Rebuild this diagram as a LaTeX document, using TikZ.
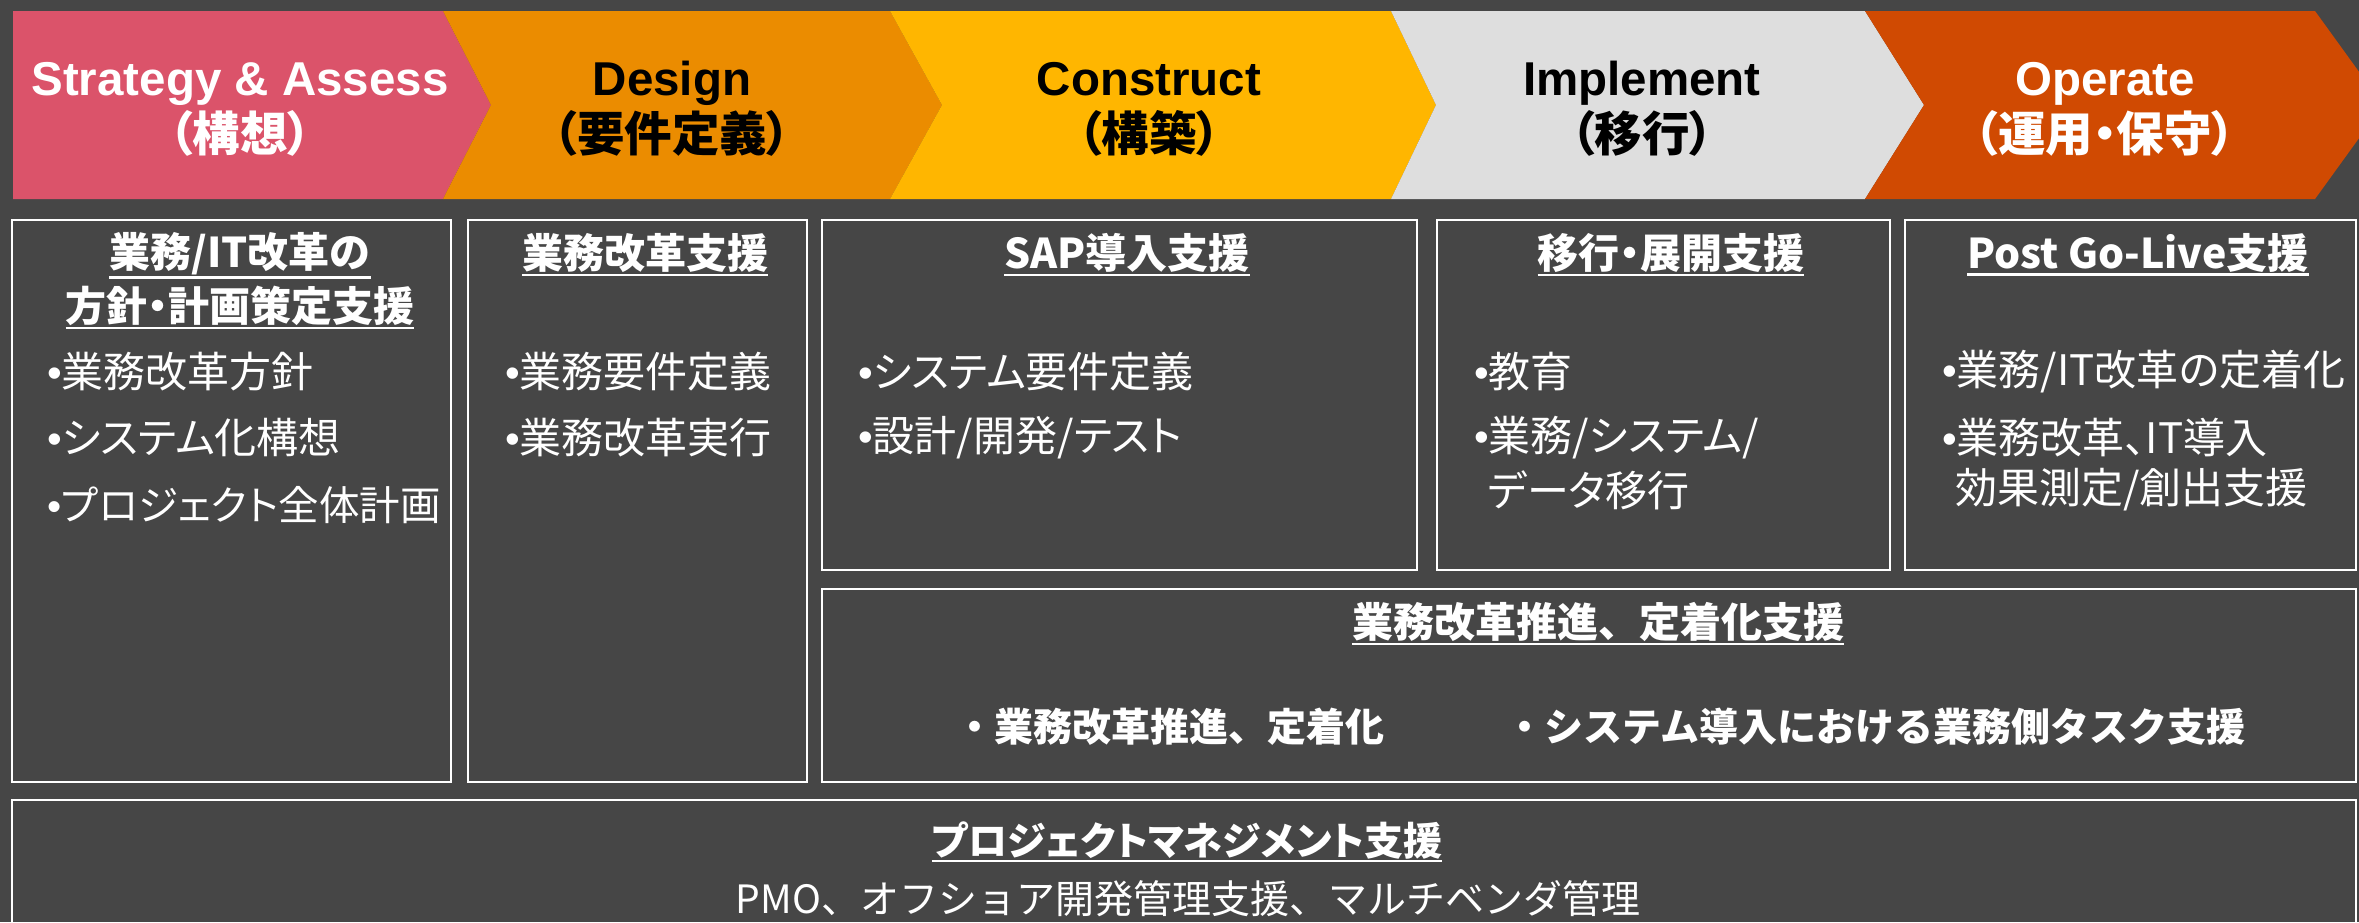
\documentclass[tikz,border=0pt]{standalone}
\usepackage{fontspec}
\setmainfont{Liberation Sans}
\newfontfamily\jp{Noto Sans CJK JP}[RawFeature=+palt]
\newfontfamily\jpfull{Noto Sans CJK JP}
\definecolor{bg}{RGB}{70,70,70}
\definecolor{rose}{RGB}{219,83,106}
\definecolor{tangerine}{RGB}{235,140,0}
\definecolor{amber}{RGB}{255,182,0}
\definecolor{lgry}{RGB}{222,222,222}
\definecolor{vermil}{RGB}{208,74,2}
\newcommand\bul{{\rmfamily\textbullet}}
\tikzset{
  box/.style={draw=white, line width=2pt},
  phase/.style={font=\fontsize{47.5}{57}\selectfont\bfseries, inner sep=0pt, anchor=base},
  phasejp/.style={phase, font=\jp\fontsize{47.5}{57}\selectfont\bfseries},
  head/.style={font=\jp\fontsize{41}{49}\selectfont\bfseries, text=white, inner sep=0pt},
  uline/.style={white, line width=2.5pt},
  item/.style={font=\jp\fontsize{42}{50}\selectfont, text=white, inner sep=0pt, anchor=west},
  bitem/.style={item, font=\jpfull\fontsize{39}{47}\selectfont\bfseries},
  body/.style={font=\jpfull\fontsize{39}{47}\selectfont, text=white, inner sep=0pt},
}

\begin{document}
\begin{tikzpicture}[x=1pt,y=-1pt]
  \useasboundingbox (0,0) rectangle (2359,922);
  \clip (0,0) rectangle (2359,922);
  \fill[bg] (0,0) rectangle (2359,922);
  % phase arrows
  \fill[rose] (13,11) -- (443,11) -- (491,105) -- (443,199) -- (13,199) -- cycle;
  \fill[tangerine] (443,11) -- (890,11) -- (942,105) -- (890,199) -- (443,199) -- (491,105) -- cycle;
  \fill[amber] (890,11) -- (1391,11) -- (1436,105) -- (1391,199) -- (890,199) -- (942,105) -- cycle;
  \fill[lgry] (1391,11) -- (1865,11) -- (1924,105) -- (1865,199) -- (1391,199) -- (1436,105) -- cycle;
  \fill[vermil] (1865,11) -- (2315,11) -- (2383,105) -- (2315,199) -- (1865,199) -- (1924,105) -- cycle;
  \node[phase,white] (strat) at (240,95) {Strategy \& Assess};
  \node[phasejp,white] (stratjp) at (240,151) {（構想）};
  \node[phase] (design) at (672,95) {Design};
  \node[phasejp] (designjp) at (672,151) {（要件定義）};
  \node[phase] (constr) at (1149,95) {Construct};
  \node[phasejp] (constrjp) at (1149,151) {（構築）};
  \node[phase] (impl) at (1642,95) {Implement};
  \node[phasejp] (impljp) at (1642,151) {（移行）};
  \node[phase,white] (oper) at (2105,95) {Operate};
  \node[phasejp,white] (operjp) at (2105,151) {（運用・保守）};
  % service boxes
  \draw[box] (12,220) rectangle (451,782);
  \draw[box] (468,220) rectangle (807,782);
  \draw[box] (822,220) rectangle (1417,570);
  \draw[box] (1437,220) rectangle (1890,570);
  \draw[box] (1905,220) rectangle (2356,570);
  \draw[box] (822,589) rectangle (2356,782);
  \draw[box] (12,800) rectangle (2356,960);
  % headings
  \node[head] (hA1) at (240,254) {業務/IT改革の};
  \draw[uline] ([yshift=-2pt]hA1.south west) -- ([yshift=-2pt]hA1.south east);
  \node[head] (hA2) at (240,306) {方針・計画策定支援};
  \draw[uline] ([yshift=-2pt]hA2.south west) -- ([yshift=-2pt]hA2.south east);
  \node[head] (hB) at (645,253) {業務改革支援};
  \draw[uline] ([yshift=-2pt]hB.south west) -- ([yshift=-2pt]hB.south east);
  \node[head] (hC) at (1127,253) {SAP導入支援};
  \draw[uline] ([yshift=-2pt]hC.south west) -- ([yshift=-2pt]hC.south east);
  \node[head] (hD) at (1671,253) {移行・展開支援};
  \draw[uline] ([yshift=-2pt]hD.south west) -- ([yshift=-2pt]hD.south east);
  \node[head] (hE) at (2138,253) {Post Go-Live支援};
  \draw[uline] ([yshift=-2pt]hE.south west) -- ([yshift=-2pt]hE.south east);
  \node[head,font=\jpfull\fontsize{41}{49}\selectfont\bfseries] (hF) at (1598,622) {業務改革推進、定着化支援};
  \draw[uline] ([yshift=-2pt]hF.south west) -- ([yshift=-2pt]hF.south east);
  \node[head,font=\jp\fontsize{39}{47}\selectfont\bfseries] (hG) at (1187,840) {プロジェクトマネジメント支援};
  \draw[uline] ([yshift=-2pt]hG.south west) -- ([yshift=-2pt]hG.south east);
  % items
  \node[item] (a1) at (47,372) {\bul 業務改革方針};
  \node[item] (a2) at (47,438) {\bul システム化構想};
  \node[item,font=\jp\fontsize{40.5}{48}\selectfont] (a3) at (47,505) {\bul プロジェクト全体計画};
  \node[item] (b1) at (505,372) {\bul 業務要件定義};
  \node[item] (b2) at (505,438) {\bul 業務改革実行};
  \node[item] (c1) at (858,372) {\bul システム要件定義};
  \node[item] (c2) at (858,438) {\bul 設計/開発/テスト};
  \node[item] (d1) at (1474,372) {\bul 教育};
  \node[item] (d2) at (1474,438) {\bul 業務/システム/};
  \node[item] (d3) at (1488,490) {データ移行};
  \node[item] (e1) at (1942,372) {\bul 業務/IT改革の定着化};
  \node[item] (e2) at (1942,438) {\bul 業務改革、IT導入};
  \node[item] (e3) at (1955,490) {効果測定/創出支援};
  \node[bitem] (f1) at (955,727) {・業務改革推進、定着化};
  \node[bitem] (f2) at (1505,727) {・システム導入における業務側タスク支援};
  \node[body] (g1) at (1188,899) {PMO、オフショア開発管理支援、マルチベンダ管理};
\end{tikzpicture}
\end{document}
